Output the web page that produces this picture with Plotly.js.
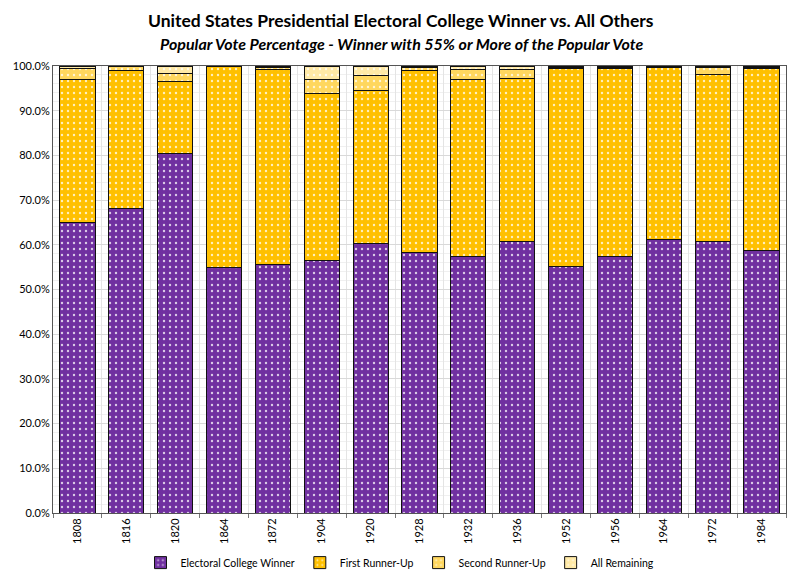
<!DOCTYPE html>
<html>
<head>
<meta charset="utf-8">
<script src="https://cdn.plot.ly/plotly-3.0.1.min.js"></script>
<style>
  html, body { margin: 0; padding: 0; background: #fff; }
  #chart { width: 800px; height: 580px; }
</style>
</head>
<body>
<div id="chart"></div>
<script>
// election years shown on the x axis
var years = ['1808', '1816', '1820', '1864', '1872', '1904', '1920', '1928',
             '1932', '1936', '1952', '1956', '1964', '1972', '1984'];

// popular vote shares, in percent
var winner       = [64.9, 68.2, 80.5, 55.0, 55.5, 56.4, 60.4, 58.3, 57.3, 60.8, 55.2, 57.4, 61.1, 60.7, 58.8];
var firstRunner  = [32.1, 30.7, 16.1, 45.0, 43.8, 37.5, 34.1, 40.7, 39.7, 36.5, 44.3, 42.0, 38.5, 37.5, 40.6];
var secondRunner = [ 2.5,  1.0,  1.7,  0.0,  0.3,  3.1,  3.3,  0.7,  2.2,  1.9,  0.2,  0.2,  0.1,  1.4,  0.3];
var allRemaining = [ 0.5,  0.1,  1.7,  0.0,  0.4,  3.0,  2.2,  0.3,  0.8,  0.8,  0.3,  0.4,  0.3,  0.4,  0.3];

function toShare(list) {
    return list.map(v => v / 100);
}

function makeTrace(name, values, color) {
    return {
        x: years,
        y: toShare(values),
        type: 'bar',
        name: name,
        marker: {
            color: color,
            line: { color: '#111', width: 1 },
            pattern: { shape: '.', fgcolor: '#ffffff', bgcolor: color, size: 6, solidity: 0.12, fgopacity: 0.75 }
        },
        hovertemplate: '%{x}: %{y:.1%}<extra>' + name + '</extra>'
    };
}

var traces = [
    makeTrace('Electoral College Winner', winner, '#7030A0'),
    makeTrace('First Runner-Up', firstRunner, '#FFC000'),
    makeTrace('Second Runner-Up', secondRunner, '#FFD75E'),
    makeTrace('All Remaining', allRemaining, '#FFE9A6')
];

var layout = {
    width: 800,
    height: 580,
    barmode: 'stack',
    bargap: 0.28,
    paper_bgcolor: '#fff',
    plot_bgcolor: '#fff',
    font: { family: 'Lato, "Open Sans", sans-serif', color: '#000' },
    margin: { l: 53, r: 14, t: 66, b: 67 },
    annotations: [
        {
            text: '<b>United States Presidential Electoral College Winner vs. All Others</b>',
            xref: 'paper', yref: 'paper', x: 0.475, y: 1, yshift: 46, yanchor: 'middle',
            showarrow: false, font: { size: 17.5 }
        },
        {
            text: '<b><i>Popular Vote Percentage - Winner with 55% or More of the Popular Vote</i></b>',
            xref: 'paper', yref: 'paper', x: 0.475, y: 1, yshift: 23, yanchor: 'middle',
            showarrow: false, font: { size: 16 }
        }
    ],
    xaxis: {
        type: 'category',
        tickangle: -90,
        tickfont: { size: 11 },
        showline: true, linecolor: '#555', linewidth: 1, mirror: true,
        showgrid: true, gridcolor: '#e4e4e4', tickson: 'boundaries',
        ticks: 'outside', ticklen: 4, tickcolor: '#777'
    },
    yaxis: {
        range: [0, 1],
        dtick: 0.1,
        tickformat: '.1%',
        tickfont: { size: 11 },
        showline: true, linecolor: '#555', linewidth: 1, mirror: true,
        showgrid: true, gridcolor: '#d9d9d9',
        minor: { dtick: 0.02, showgrid: true, gridcolor: '#f0f0f0' },
        zeroline: false
    },
    legend: {
        orientation: 'h',
        x: 0.5, xanchor: 'center', xref: 'container',
        y: 0.03, yanchor: 'middle', yref: 'container',
        font: { size: 10.5 },
        traceorder: 'normal',
        itemwidth: 30
    },
    showlegend: true
};

Plotly.newPlot('chart', traces, layout, { displayModeBar: false });
</script>
</body>
</html>
